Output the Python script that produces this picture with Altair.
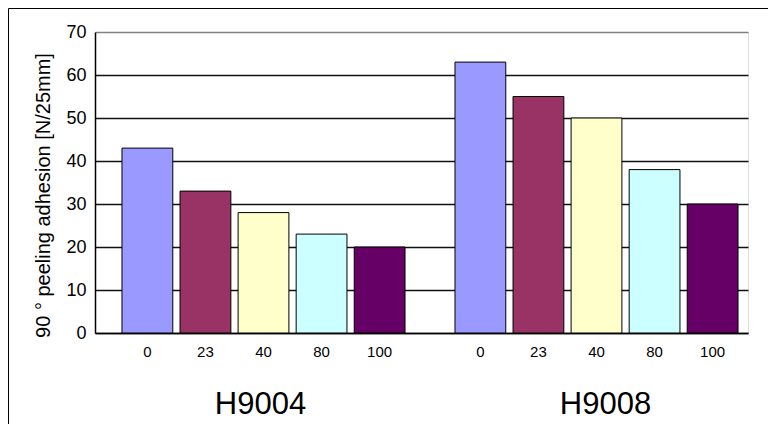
import altair as alt
import pandas as pd

groups = ["H9004", "H9008"]
temps = ["0", "23", "40", "80", "100"]
values_h9004 = [43, 33, 28, 23, 20]
values_h9008 = [63, 55, 50, 38, 30]
colors = ["#9999FF", "#993366", "#FFFFCC", "#CCFFFF", "#660066"]
y_ticks = [0, 10, 20, 30, 40, 50, 60, 70]

rows = []
for g, vals in zip(groups, [values_h9004, values_h9008]):
    for t, v in zip(temps, vals):
        rows.append({"group": g, "temp": t, "value": v})
df = pd.DataFrame(rows)

FONT = "Liberation Sans"
W, H = 653, 301

x_scale = alt.Scale(domain=groups, paddingInner=0.15, paddingOuter=0.0555, align=0.73)
xo_scale = alt.Scale(domain=temps, paddingInner=0.125, paddingOuter=0)

x_enc = alt.X(
    "group:N",
    scale=x_scale,
    sort=groups,
    axis=alt.Axis(
        title=None,
        labelAngle=0,
        labelFont=FONT,
        labelFontSize=31,
        labelColor="black",
        labelBaseline="alphabetic",
        labelPadding=80,
        labelOffset={"condition": {"test": "datum.value == 'H9008'", "value": 9}, "value": -3},
        ticks=False,
        domainColor="black",
        domainWidth=1.5,
        grid=False,
    ),
)

bars = alt.Chart(df).mark_bar(stroke="black", strokeWidth=1).encode(
    x=x_enc,
    xOffset=alt.XOffset("temp:N", scale=xo_scale, sort=temps),
    y=alt.Y(
        "value:Q",
        scale=alt.Scale(domain=[0, 70], nice=False),
        axis=alt.Axis(
            values=y_ticks,
            title="90 ° peeling adhesion [N/25mm]",
            titleFont=FONT,
            titleFontSize=20,
            titleFontWeight="normal",
            titleColor="black",
            titleAngle=270,
            titleAlign="center",
            titleBaseline="alphabetic",
            titleX=-46,
            titleY=163,
            labelFont=FONT,
            labelFontSize=18,
            labelColor="black",
            labelPadding=9,
            ticks=False,
            domainColor="black",
            domainWidth=1.5,
            grid=True,
            gridColor={"condition": {"test": "datum.value >= 70", "value": "#808080"}, "value": "#111111"},
            gridWidth=1.5,
        ),
    ),
    color=alt.Color("temp:N", scale=alt.Scale(domain=temps, range=colors), legend=None),
)

labels = alt.Chart(df).mark_text(
    font=FONT, fontSize=15, color="black", baseline="alphabetic", align="center"
).encode(
    x=alt.X("group:N", scale=x_scale, sort=groups),
    xOffset=alt.XOffset("temp:N", scale=xo_scale, sort=temps),
    y=alt.value(325),
    text="temp:N",
)

frame_data = alt.Data(values=[{"k": 1}])
left_border = alt.Chart(frame_data).mark_rule(color="black", strokeWidth=1).encode(
    x=alt.value(-86.5), y=alt.value(-23.5), y2=alt.value(393)
)
top_border = alt.Chart(frame_data).mark_rule(color="black", strokeWidth=1).encode(
    x=alt.value(-86.5), x2=alt.value(673), y=alt.value(-23.5)
)

chart = alt.layer(bars, labels, left_border, top_border).properties(
    width=W,
    height=H,
    autosize=alt.AutoSizeParams(type="none"),
    padding={"left": 87, "top": 24, "right": 20, "bottom": 91},
).configure_view(stroke="#808080", strokeWidth=1.5).configure(background="white")

chart.save("out.html", embed_options={"renderer": "svg", "actions": False})
